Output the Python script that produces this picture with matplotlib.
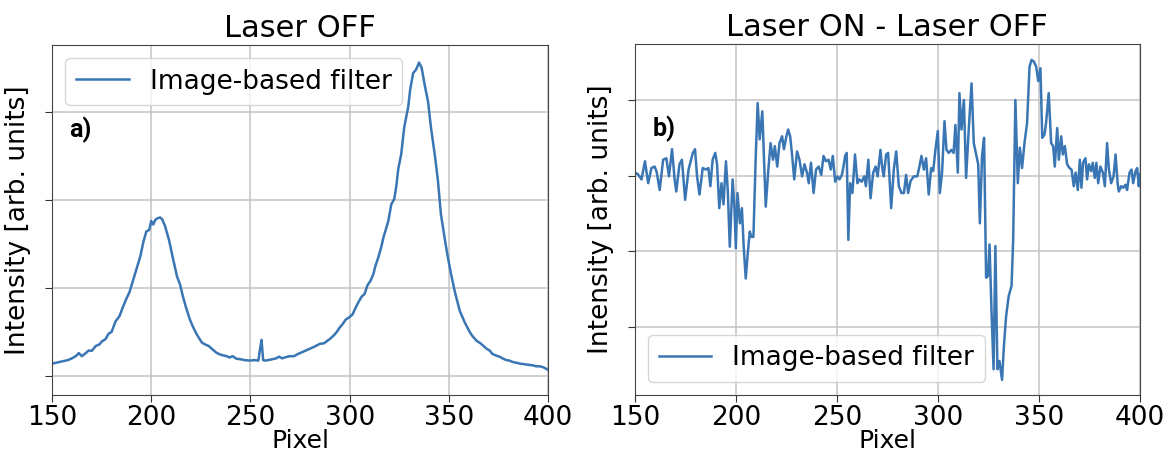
import matplotlib
matplotlib.use("Agg")
import matplotlib.pyplot as plt

# Panel a) Laser OFF
xa = [150, 153, 155, 158, 160, 162, 163.5, 165, 167, 168.5, 170, 172, 174, 175, 177,
      178.5, 180, 182, 184, 185.5, 187.5, 189, 190.5, 192.5, 194.5, 196, 197.5, 199, 200,
      201, 202, 203, 204.5, 205.5, 207, 209, 211, 213, 214.5, 216, 217.5, 219.5, 221, 223,
      225.5, 227, 229, 231, 232.5, 234, 236, 238, 239.5, 241, 243, 245, 247, 250, 252, 254,
      254.8, 255.6, 256.4, 257.5, 259, 261, 263, 264.5, 266, 268, 270, 272, 274, 277, 280,
      282, 285, 287, 290, 292, 293.5, 295, 296.5, 298, 300, 301.5, 302.5, 304, 306, 307.5,
      309, 310.5, 312, 313, 314.5, 316, 317, 319.5, 321, 322.5, 323.5, 324.5, 326, 327.5,
      328.5, 329.5, 330.5, 332, 333.5, 335, 336.3, 337.8, 339.5, 341, 343, 344.5, 346, 348,
      349.5, 351, 353, 355.5, 358, 360.5, 362, 364, 366, 367, 369, 370.5, 372, 374, 375.5,
      377, 379, 380.5, 382, 384, 386, 389, 391, 392.5, 394, 396, 398, 400]
ya = [0.14, 0.155, 0.165, 0.18, 0.20, 0.225, 0.26, 0.225, 0.26, 0.29, 0.285, 0.34, 0.36, 0.39, 0.42,
      0.48, 0.50, 0.62, 0.68, 0.77, 0.88, 0.95, 1.06, 1.21, 1.36, 1.52, 1.64, 1.66, 1.76,
      1.72, 1.77, 1.79, 1.80, 1.78, 1.70, 1.54, 1.33, 1.13, 1.04, 0.90, 0.78, 0.64, 0.56, 0.47,
      0.38, 0.36, 0.34, 0.30, 0.27, 0.25, 0.235, 0.225, 0.21, 0.225, 0.195, 0.19, 0.18, 0.175, 0.18, 0.175,
      0.30, 0.41, 0.18, 0.175, 0.18, 0.19, 0.20, 0.22, 0.20, 0.215, 0.225, 0.225, 0.25, 0.28, 0.31,
      0.33, 0.365, 0.37, 0.42, 0.46, 0.50, 0.55, 0.59, 0.64, 0.67, 0.70, 0.75, 0.82, 0.90, 0.93,
      1.03, 1.08, 1.16, 1.25, 1.35, 1.47, 1.57, 1.76, 1.95, 2.01, 2.15, 2.35, 2.52, 2.82,
      2.94, 3.05, 3.25, 3.44, 3.48, 3.56, 3.50, 3.31, 3.12, 2.82, 2.50, 2.22, 1.84, 1.55,
      1.35, 1.17, 0.96, 0.74, 0.61, 0.50, 0.45, 0.40, 0.37, 0.35, 0.31, 0.29, 0.25, 0.23, 0.22,
      0.20, 0.18, 0.175, 0.16, 0.15, 0.14, 0.13, 0.125, 0.12, 0.11, 0.11, 0.095, 0.07]

# Panel b) Laser ON - Laser OFF
xb = [150, 151.5, 153.3, 155, 156.6, 158.2, 159.8, 160.8, 162.3, 164, 165.6, 166.9, 168.4, 169.7,
      170.5, 172.1, 173.3, 174.9, 176.6, 178.7, 179.8, 180.8, 182, 183.6, 185.2, 186.4, 187.4,
      188.5, 189.8, 190.7, 191.8, 192.9, 193.9, 195.1, 196, 197, 198.4, 199.3, 200, 200.8, 202,
      203, 203.9, 204.9, 205.9, 206.9, 207.7, 208.7, 209.8, 210.8, 211.8, 213.1, 214.8, 216.1,
      217.2, 218.4, 219.3, 220.5, 221.6, 222.9, 223.8, 224.9, 225.9, 226.9, 227.9, 228.9, 230.3,
      231.5, 232.8, 234, 235.2, 236.1, 237.2, 238.5, 239.7, 241, 242.3, 243.4, 244.6, 245.9,
      247, 248, 249.2, 250.3, 251.3, 252.5, 253.3, 254.1, 254.9, 255.7, 256.6, 257.7, 259,
      260.2, 261.1, 262.3, 263.6, 264.4, 265.6, 266.7, 268, 269.2, 270.2, 271.6, 272.4, 273.2,
      274.4, 275.4, 276.9, 278.2, 279.4, 280.7, 282, 283.2, 284.3, 285.3, 286.5, 288.1, 289.8,
      290.9, 291.9, 293.1, 294.2, 295.5, 296.7, 297.7, 298.8, 300, 301, 302.1, 303.3, 304.3,
      305.4, 306.6, 307.8, 308.7, 309.9, 310.7, 311.7, 312.9, 314, 315.3, 316.7, 317.8, 319,
      320, 320.8, 321.9, 322.9, 323.9, 324.8, 325.6, 326.6, 327.6, 328.5, 329.5, 330.5, 331.8,
      332.7, 333.8, 335.1, 336.5, 337.3, 338.4, 339.6, 340.6, 341.7, 342.9, 344.2, 345.4, 346.4,
      347.5, 348.7, 349.7, 350.8, 351.7, 352.8, 353.6, 354.9, 356.1, 357.1, 357.9, 359.1, 359.9,
      361.1, 361.9, 362.9, 364, 365.2, 366.2, 367.3, 368.2, 369.3, 370.3, 371.1, 371.9, 373.1,
      373.9, 374.8, 375.9, 376.7, 377.7, 378.5, 379.4, 380.5, 381.7, 382.7, 383.8, 384.7, 385.8,
      387, 388, 389, 389.6, 390.8, 391.8, 392.9, 393.7, 394.9, 395.9, 396.7, 397.9, 398.7,
      399.5, 400]
yb = [0.04, 0.02, -0.05, 0.19, -0.1, 0.1, 0.12, 0.05, -0.19, 0.21, 0.23, -0.01, 0.35, -0.05,
      -0.21, 0.15, 0.21, -0.32, 0.08, 0.3, 0.35, -0.01, -0.25, 0.1, 0.08, 0.1, -0.14,
      0.21, 0.3, 0.15, -0.43, -0.1, -0.38, 0.19, -0.19, -0.94, -0.05, -0.41, -0.96, -0.23, -0.63,
      -0.43, -0.94, -1.36, -1.03, -0.74, -0.81, -0.81, 0.21, 0.96, 0.48, 0.85, -0.41, 0.08,
      0.43, 0.21, 0.39, 0.12, 0.43, 0.52, 0.35, 0.5, 0.61, 0.52, 0.26, -0.05, 0.32,
      0.21, -0.01, 0.15, 0.04, -0.1, 0.17, -0.23, 0.08, 0.12, 0.01, 0.26, 0.19, 0.21,
      0.08, 0.26, -0.08, -0.01, -0.05, 0.01, 0.12, 0.26, 0.3, -0.85, -0.1, -0.23, 0.28,
      -0.1, -0.05, -0.08, -0.01, -0.14, 0.21, -0.3, 0.04, 0.12, -0.01, 0.34, 0.12, -0.01,
      0.28, 0.3, -0.43, 0.08, 0.32, -0.14, -0.23, -0.23, 0.01, -0.23, -0.07, -0.01, -0.01,
      0.12, 0.26, 0.08, 0.23, -0.25, 0.1, 0.06, 0.34, 0.59, -0.23, 0.04, 0.72, 0.34,
      0.3, 0.34, 0.3, 0.67, 0.04, 1.09, 0.61, 1.0, -0.03, 0.61, 1.22, 0.43, 0.28,
      0.15, -0.63, 0.26, 0.5, -1.35, -1.33, -0.91, -1.81, -2.56, -0.93, -2.56, -2.45, -2.7,
      -2.26, -1.86, -1.59, -1.46, -0.85, 1.0, -0.1, 0.37, 0.1, 0.43, 0.7, 1.44, 1.53,
      1.51, 1.44, 1.25, 1.42, 0.5, 0.54, 0.7, 1.09, 0.43, 0.39, 0.12, 0.63, 0.21,
      0.52, 0.28, 0.39, 0.15, 0.1, 0.08, -0.14, 0.04, -0.19, 0.21, -0.16, 0.17, 0.23,
      -0.05, 0.15, 0.06, 0.17, -0.03, 0.17, -0.1, 0.12, 0.04, -0.14, 0.43, 0.08, -0.1,
      -0.01, 0.28, -0.1, -0.21, -0.14, -0.16, -0.12, -0.19, 0.04, 0.08, -0.1, 0.06, 0.1,
      -0.14, 0.02]

xticks = [150, 200, 250, 300, 350, 400]
yticks_a = [0, 1, 2, 3]
yticks_b = [-2, -1, 0, 1]

line_color = '#3a76b4'
label = 'Image-based filter'

fig = plt.figure(figsize=(11.67, 4.57), dpi=100)
ax1 = fig.add_axes([0.0446, 0.1357, 0.425, 0.766])
ax2 = fig.add_axes([0.544, 0.1357, 0.4327, 0.768])

panels = [
    (ax1, xa, ya, 'Laser OFF', 'a)', yticks_a, (-0.216, 3.76), 'upper left'),
    (ax2, xb, yb, 'Laser ON - Laser OFF', 'b)', yticks_b, (-2.9, 1.74), 'lower left'),
]

for ax, x, y, title, tag, yt, ylim, loc in panels:
    ax.plot(x, y, color=line_color, lw=1.8, label=label)
    ax.set_xlim(150, 400)
    ax.set_ylim(*ylim)
    ax.set_xticks(xticks)
    ax.set_yticks(yt)
    ax.set_yticklabels([])
    ax.grid(True, color='#c4c4c4', lw=1.1)
    ax.set_axisbelow(True)
    ax.tick_params(labelsize=19, length=5, pad=2, color='#333333')
    for s in ax.spines.values():
        s.set_color('#444444')
    ax.set_title(title, fontsize=22, pad=6)
    ax.set_xlabel('Pixel', fontsize=18, labelpad=-1)
    ax.set_ylabel('Intensity [arb. units]', fontsize=19, labelpad=8)
    ax.text(0.035, 0.757, tag, transform=ax.transAxes, fontsize=18,
            fontweight='bold', family='Roboto', va='center')
    ax.legend(loc=loc, fontsize=19, handlelength=2.0, framealpha=0.8)

fig.savefig('out.png', dpi=100)
